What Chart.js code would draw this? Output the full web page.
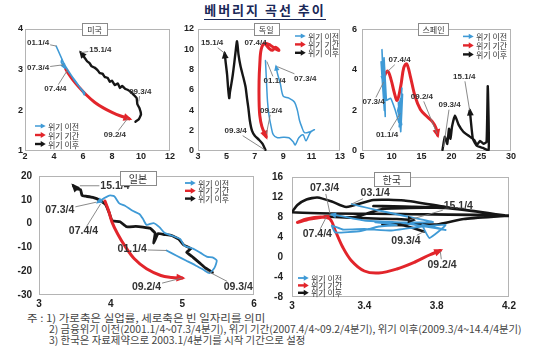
<!DOCTYPE html>
<html>
<head>
<meta charset="utf-8">
<script src="https://cdn.jsdelivr.net/npm/chart.js@4.4.1/dist/chart.umd.min.js"></script>
<style>
html,body{margin:0;padding:0;background:#fff;}
#page{position:relative;width:538px;height:349px;overflow:hidden;background:#fff;}
#page canvas{position:absolute;}
#title{position:absolute;left:0;top:2px;width:530px;text-align:center;font:bold 13px "Noto Sans CJK KR",sans-serif;letter-spacing:2px;color:#1a2858;line-height:16px;}
#title span{border-bottom:1.5px solid #1a2858;}
.note{position:absolute;font:10px "Noto Sans CJK KR",sans-serif;color:#444;white-space:nowrap;line-height:12px;transform-origin:0 0;}
</style>
</head>
<body>
<div id="page">
<div id="title"><span>베버리지 곡선 추이</span></div>
<div class="note" id="n1" style="left:27px;top:312px">주 : 1) 가로축은 실업률, 세로축은 빈 일자리를 의미</div>
<div class="note" id="n2" style="left:49px;top:323px">2) 금융위기 이전(2001.1/4~07.3/4분기), 위기 기간(2007.4/4~09.2/4분기), 위기 이후(2009.3/4~14.4/4분기)</div>
<div class="note" id="n3" style="left:49px;top:334px">3) 한국은 자료제약으로 2003.1/4분기를 시작 기간으로 설정</div>
</div>
<script>
// ---------- data ----------
const seriesNames = ['위기 이전', '위기 기간', '위기 이후'];
const panelNames = ['미국', '독일', '스페인', '일본', '한국'];

// 미국
const usXTicks = [2, 4, 6, 8, 10, 12];
const usYTicks = [1, 2, 3, 4];
const usPre = [[4.15,3.58],[4.35,3.42],[4.6,3.22],[4.8,3.08],[5.2,2.86],[5.6,2.66],[5.85,2.52],[6.0,2.45],[6.08,2.38],[6.12,2.43],[5.9,2.52],[5.6,2.64],[5.4,2.74],[5.2,2.85],[5.0,2.95],[4.85,3.03],[4.7,3.12],[4.6,3.2],[4.55,3.26],[4.5,3.18],[4.62,3.12],[4.72,3.05]];
const usCrisis = [[4.8,3.02],[5.0,2.9],[5.3,2.75],[5.7,2.58],[6.2,2.39],[6.8,2.2],[7.4,2.06],[8.0,1.95],[8.6,1.86],[9.2,1.79]];
const usPost = [[9.62,1.72],[9.85,1.78],[10.0,1.9],[9.9,2.05],[9.75,2.15],[9.7,2.3],[9.5,2.38],[9.3,2.45],[9.1,2.5],[8.9,2.53],[8.7,2.6],[8.55,2.55],[8.4,2.66],[8.2,2.62],[8.0,2.73],[7.85,2.7],[7.7,2.8],[7.5,2.82],[7.35,2.9],[7.15,2.92],[7.0,2.99],[6.8,3.05],[6.6,3.08],[6.45,3.16],[6.3,3.2],[6.1,3.3],[6.0,3.35],[5.85,3.42]];
const usLabels = [['01.1/4',2.9,3.67,4.17,3.58],['15.1/4',7.2,3.49,5.88,3.42],['07.3/4',2.9,3.04,4.65,3.12],['07.4/4',4.1,2.52,4.95,3.0],['09.3/4',9.95,2.46,9.85,2.22],['09.2/4',8.2,1.39,9.08,1.8]];

// 독일
const deXTicks = [3, 5, 7, 9, 11, 13];
const deYTicks = [0, 2, 4, 6, 8, 10, 12];
const dePre = [[7.75,8.9],[7.8,7.5],[7.85,6.0],[7.9,4.8],[8.0,3.5],[8.15,2.4],[8.3,1.6],[8.6,1.3],[9.0,1.35],[9.4,1.3],[9.7,0.9],[9.85,0.6],[10.1,1.3],[10.4,1.6],[10.6,1.0],[10.9,1.8],[11.2,2.1],[10.9,1.9],[10.5,1.8],[10.3,2.4],[10.15,3.0],[10.0,4.0],[9.8,4.8],[9.4,5.2],[9.0,5.4],[8.8,6.6],[8.6,7.6],[8.5,8.3]];
const deCrisis = [[7.75,10.5],[8.0,10.1],[8.25,9.9],[8.45,10.2],[8.7,9.9],[8.5,10.0],[8.1,10.4],[7.7,10.6],[7.45,10.0],[7.35,8.5],[7.3,6.8],[7.3,5.0],[7.35,3.5],[7.5,2.4],[7.8,1.4]];
const dePost = [[7.75,0.1],[7.55,0.7],[7.3,1.1],[7.0,1.5],[6.8,2.0],[6.65,3.0],[6.55,4.2],[6.45,5.2],[6.35,6.3],[6.2,7.2],[6.0,8.3],[5.85,9.5],[5.75,10.8],[5.65,9.8],[5.55,8.6],[5.45,7.5],[5.35,6.6],[5.25,5.8],[5.2,5.2],[5.12,6.2],[5.05,7.5],[4.95,8.7],[4.88,9.6]];
const deLabels = [['15.1/4',4.0,10.6,4.86,9.63],['07.4/4',7.05,10.6,7.75,10.45],['07.3/4',10.55,7.15,8.58,8.3],['01.1/4',8.4,6.9,7.85,8.8],['09.2/4',8.15,4.0,7.82,1.7],['09.3/4',5.65,1.95,7.72,0.1]];

// 스페인
const esXTicks = [5, 10, 15, 20, 25, 30];
const esYTicks = [0, 2, 4, 6];
const esPre = [[11.4,1.85],[11.7,3.1],[11.25,1.2],[11.8,2.8],[11.5,0.95],[11.1,2.4],[11.65,1.3],[11.0,2.0],[11.5,2.6],[11.2,1.4],[10.6,2.0],[9.8,2.6],[9.1,2.5],[8.7,4.6],[8.9,1.7],[8.35,5.0],[8.75,2.0],[8.2,4.4],[8.8,2.9],[8.4,4.2],[8.6,3.5]];
const esCrisis = [[8.6,3.6],[9.3,3.95],[9.9,3.5],[10.4,2.9],[10.9,2.5],[11.5,3.2],[12.0,4.1],[12.5,4.3],[13.1,3.7],[13.9,2.7],[14.8,2.05],[15.9,1.7],[16.8,1.45],[17.4,1.15],[17.7,0.78]];
const esPost = [[18.5,0.05],[18.9,0.7],[19.3,0.35],[19.6,1.1],[19.85,0.6],[20.1,1.2],[20.6,1.75],[21.2,1.3],[22.0,0.95],[22.9,0.75],[23.8,0.55],[24.3,0.3],[24.8,0.5],[25.4,0.35],[25.9,0.45],[26.1,3.2],[26.25,0.05],[25.3,0.15],[24.3,0.25],[23.6,0.6],[23.1,2.0]];
const esLabels = [['07.4/4',11.3,4.48,9.2,3.9],['07.3/4',6.95,2.42,8.64,3.41],['01.1/4',9.2,0.78,11.43,1.85],['09.2/4',15.05,2.67,17.58,0.86],['09.3/4',19.7,2.26,18.7,0.2],['15.1/4',22.15,3.66,23.06,2.01]];

// 일본
const jpXTicks = [3, 4, 5, 6];
const jpYTicks = [-30, -20, -10, 0, 10, 20];
const jpPre = [[4.78,-11.3],[4.92,-13.5],[5.05,-15.5],[5.18,-17.5],[5.3,-19.5],[5.38,-20.8],[5.45,-18.5],[5.48,-15.5],[5.42,-14.2],[5.35,-14.0],[5.25,-12.2],[5.15,-10.5],[5.03,-9.3],[4.97,-6.5],[4.85,-5.0],[4.75,-3.8],[4.68,-1.5],[4.6,0.2],[4.5,-0.5],[4.45,2.0],[4.4,4.0],[4.3,5.5],[4.2,7.5],[4.12,8.5],[4.05,11.5],[3.98,11.8],[3.9,10.5],[3.82,9.0]];
const jpCrisis = [[3.92,9.5],[3.97,5.5],[4.02,0.5],[4.1,-4.5],[4.2,-9.5],[4.33,-14.8],[4.5,-19.0],[4.7,-21.8],[4.85,-22.6],[5.0,-22.9]];
const jpPost = [[5.42,-20.5],[5.32,-18.6],[5.24,-16.5],[5.15,-14.2],[5.06,-12.0],[5.12,-10.5],[5.02,-9.0],[4.95,-6.5],[4.85,-5.0],[4.75,-4.6],[4.66,-4.2],[4.6,-8.2],[4.62,-4.0],[4.55,-2.0],[4.45,-1.5],[4.35,-1.2],[4.22,-1.3],[4.13,0.8],[4.02,1.2],[3.98,4.5],[3.93,8.0],[3.85,9.8],[3.75,11.0],[3.65,11.5],[3.6,11.8],[3.58,14.3],[3.52,14.6],[3.48,15.9]];
const jpLabels = [['15.1/4',4.06,15.9,3.57,15.9],['07.3/4',3.29,5.6,3.8,9.0],['07.4/4',3.62,-3.35,3.86,8.3],['01.1/4',4.3,-10.9,4.78,-11.3],['09.2/4',4.5,-26.7,4.99,-22.9],['09.3/4',5.78,-26.7,5.34,-19.8]];

// 한국
const krXTicks = [3, 3.4, 3.8, 4.2];
const krYTicks = [-8, -4, 0, 4, 8, 12, 16];
const krPre = [[3.33,10.6],[3.42,9.8],[3.52,9.0],[3.65,8.0],[3.78,7.0],[3.62,6.9],[3.46,6.95],[3.58,6.4],[3.48,6.1],[3.38,5.2],[3.24,4.9],[3.22,6.3],[3.28,5.5],[3.4,5.6],[3.55,5.3],[3.7,6.0],[3.85,6.4],[3.76,3.8],[3.72,6.5],[3.85,5.4],[3.6,6.9],[3.4,7.3],[3.22,8.5]];
const krCrisis = [[3.2,8.1],[3.1,7.6],[3.03,6.9],[3.08,7.6],[3.16,8.0],[3.21,7.6],[3.24,5.2],[3.28,2.0],[3.33,-0.8],[3.4,-2.8],[3.48,-3.2],[3.58,-2.4],[3.68,-1.0],[3.76,0.4],[3.82,1.3]];
const krPost = [[3.73,5.1],[3.62,6.3],[3.5,6.5],[3.66,6.7],[3.8,6.5],[3.95,7.6],[4.2,8.3],[3.6,8.6],[3.0,8.95],[3.03,10.4],[3.08,11.5],[3.14,11.9],[3.22,11.1],[3.3,10.0],[3.45,11.4],[3.62,11.3],[3.85,10.0],[4.2,8.2],[3.85,9.8],[3.45,10.2],[3.8,9.9],[3.5,9.6],[3.35,8.0],[3.18,8.1],[3.45,7.7],[3.58,7.6],[3.67,7.4]];
const krLabels = [['07.3/4',3.18,13.76,3.21,8.7],['03.1/4',3.46,12.8,3.33,10.6],['15.1/4',3.92,10.24,3.65,7.45],['07.4/4',3.14,4.48,3.19,8.0],['09.3/4',3.63,3.2,3.73,5.1],['09.2/4',3.83,-1.6,3.82,1.1]];

// ---------- styling / layout ----------
const seriesColors = ['#3f9ad6', '#e2252b', '#161616'];
const PAD = 10, YW = 30, XH = 20;

const panels = [
  {name: panelNames[0], area:{l:25,t:29,r:170,b:151}, xT:usXTicks, yT:usYTicks, series:[usPre,usCrisis,usPost], labels:usLabels,
   tickSize:9, xPad:0, yPad:2, annSize:8, legSize:8, leg:{dx:10,dy:97,gap:9}, titleFx:0.48, titleSize:8, titlePad:5, widths:[1.5,3,2.4], tens:[0.2,0.35,0.1]},
  {name: panelNames[1], area:{l:198,t:29,r:340,b:151}, xT:deXTicks, yT:deYTicks, series:[dePre,deCrisis,dePost], labels:deLabels,
   tickSize:9, xPad:0, yPad:4, annSize:8, legSize:8, leg:{dx:97,dy:7,gap:8.4}, titleFx:0.48, titleSize:8, titlePad:5, widths:[1.5,3,2.4], tens:[0.3,0.35,0.25]},
  {name: panelNames[2], area:{l:362,t:29,r:511,b:151}, xT:esXTicks, yT:esYTicks, series:[esPre,esCrisis,esPost], labels:esLabels,
   tickSize:9, xPad:0, yPad:5, annSize:8, legSize:8, leg:{dx:101,dy:7,gap:9}, titleFx:0.48, titleSize:8, titlePad:4, widths:[1.6,3,2.4], tens:[0.05,0.35,0.15]},
  {name: panelNames[3], area:{l:39,t:173,r:254,b:295}, xT:jpXTicks, yT:jpYTicks, series:[jpPre,jpCrisis,jpPost], labels:jpLabels,
   tickSize:10, xPad:3, yPad:7, annSize:10.5, legSize:8, leg:{dx:146,dy:7,gap:7.8}, titleFx:0.46, titleSize:10, titlePad:9, widths:[1.8,3,2.8], tens:[0.2,0.35,0.1]},
  {name: panelNames[4], area:{l:292,t:172,r:509,b:297}, xT:krXTicks, yT:krYTicks, series:[krPre,krCrisis,krPost], labels:krLabels,
   tickSize:10, xPad:3, yPad:9, annSize:10.5, legSize:8, leg:{dx:6,dy:101,gap:7.4}, titleFx:0.46, titleSize:10, titlePad:9, widths:[1.8,3,2.6], tens:[0.1,0.35,0.2]}
];

function drawArrow(ctx, x1, y1, x2, y2, len, wid, color) {
  const ang = Math.atan2(y2 - y1, x2 - x1);
  ctx.save();
  ctx.translate(x2, y2);
  ctx.rotate(ang);
  ctx.beginPath();
  ctx.moveTo(len * 0.35, 0);
  ctx.lineTo(-len * 0.65, wid / 2);
  ctx.lineTo(-len * 0.65, -wid / 2);
  ctx.closePath();
  ctx.fillStyle = color;
  ctx.fill();
  ctx.restore();
}

const deco = {
  id: 'deco',
  beforeDatasetsDraw(chart) {
    const {ctx, chartArea: a} = chart;
    ctx.save();
    ctx.strokeStyle = '#b4b4b4';
    ctx.lineWidth = 1;
    ctx.strokeRect(Math.round(a.left) + 0.5, Math.round(a.top) + 0.5, Math.round(a.right - a.left) - 1, Math.round(a.bottom - a.top) - 1);
    ctx.restore();
  },
  afterDatasetsDraw(chart) {
    const p = chart.options.plugins.deco.panel;
    const {ctx, chartArea: a, scales: {x, y}} = chart;
    // arrowheads at the end of each path
    chart.data.datasets.forEach((ds, i) => {
      const pts = chart.getDatasetMeta(i).data;
      const n = pts.length;
      if (n < 2) return;
      const w = ds.borderWidth;
      drawArrow(ctx, pts[n - 2].x, pts[n - 2].y, pts[n - 1].x, pts[n - 1].y, 3 + w * 2, 3 + w * 1.6, ds.borderColor);
    });
    // period labels with leader lines
    ctx.save();
    ctx.font = 'bold ' + p.annSize + 'px "Liberation Sans", Arial, sans-serif';
    ctx.textAlign = 'center';
    ctx.textBaseline = 'middle';
    p.labels.forEach(([t, lx, ly, tx, ty]) => {
      const cx = x.getPixelForValue(lx), cy = y.getPixelForValue(ly);
      const px = x.getPixelForValue(tx), py = y.getPixelForValue(ty);
      const hw = ctx.measureText(t).width / 2 + 1, hh = p.annSize / 2 + 0.5;
      const dx = px - cx, dy = py - cy;
      const s = Math.min(dx ? hw / Math.abs(dx) : Infinity, dy ? hh / Math.abs(dy) : Infinity);
      if (s < 1) {
        ctx.beginPath();
        ctx.moveTo(cx + dx * s, cy + dy * s);
        ctx.lineTo(px, py);
        ctx.strokeStyle = '#7d7d7d';
        ctx.lineWidth = 0.9;
        ctx.stroke();
      }
      ctx.fillStyle = '#333';
      ctx.fillText(t, cx, cy);
    });
    ctx.restore();
  },
  afterDraw(chart) {
    const p = chart.options.plugins.deco.panel;
    const {ctx, chartArea: a} = chart;
    ctx.save();
    // legend
    ctx.font = p.legSize + 'px "Noto Sans CJK KR", sans-serif';
    ctx.textAlign = 'left';
    ctx.textBaseline = 'middle';
    chart.data.datasets.forEach((ds, i) => {
      const x0 = a.left + p.leg.dx, yy = a.top + p.leg.dy + i * p.leg.gap;
      const lw = Math.min(ds.borderWidth, 2.4);
      ctx.beginPath();
      ctx.moveTo(x0, yy);
      ctx.lineTo(x0 + 7, yy);
      ctx.strokeStyle = ds.borderColor;
      ctx.lineWidth = lw;
      ctx.stroke();
      drawArrow(ctx, x0, yy, x0 + 9, yy, 5, 3 + lw * 1.3, ds.borderColor);
      ctx.fillStyle = '#333';
      ctx.fillText(ds.label, x0 + 13, yy + 0.5);
    });
    // panel title box
    ctx.font = p.titleSize + 'px "Noto Sans CJK KR", sans-serif';
    ctx.textAlign = 'center';
    const tw = ctx.measureText(p.name).width;
    const bx = a.left + p.titleFx * (a.right - a.left);
    const bw = tw + 2 * p.titlePad, bh = p.titleSize + 4;
    const by = Math.round(a.top - bh / 2 + (p.titleSize > 9 ? 2 : 0));
    ctx.fillStyle = '#fff';
    ctx.fillRect(Math.round(bx - bw / 2) + 0.5, by + 0.5, Math.round(bw), bh);
    ctx.strokeStyle = '#8a8a8a';
    ctx.lineWidth = 1;
    ctx.strokeRect(Math.round(bx - bw / 2) + 0.5, by + 0.5, Math.round(bw), bh);
    ctx.fillStyle = '#333';
    ctx.fillText(p.name, bx, by + bh / 2 + 1);
    ctx.restore();
  }
};

const page = document.getElementById('page');
panels.forEach(p => {
  const A = p.area;
  const w = A.r - A.l + YW + 2 * PAD, h = A.b - A.t + XH + 2 * PAD;
  const cv = document.createElement('canvas');
  cv.width = w; cv.height = h;
  cv.style.left = (A.l - YW - PAD) + 'px';
  cv.style.top = (A.t - PAD) + 'px';
  cv.style.width = w + 'px';
  cv.style.height = h + 'px';
  page.appendChild(cv);
  const tickFont = {family: '"Liberation Sans", Arial, sans-serif', size: p.tickSize, weight: 'bold'};
  new Chart(cv, {
    type: 'line',
    data: {
      datasets: p.series.map((s, i) => ({
        label: seriesNames[i],
        data: s.map(([x, y]) => ({x, y})),
        borderColor: seriesColors[i],
        backgroundColor: seriesColors[i],
        borderWidth: p.widths[i],
        pointRadius: 0,
        tension: p.tens[i],
        fill: false,
        borderJoinStyle: 'round',
        borderCapStyle: 'round'
      }))
    },
    options: {
      responsive: false,
      animation: false,
      devicePixelRatio: 1,
      events: [],
      layout: {padding: PAD},
      plugins: {legend: {display: false}, tooltip: {enabled: false}, deco: {panel: p}},
      scales: {
        x: {
          type: 'linear', min: p.xT[0], max: p.xT[p.xT.length - 1],
          afterBuildTicks: s => { s.ticks = p.xT.map(v => ({value: v})); },
          afterFit: s => { s.height = XH; },
          grid: {display: false, drawTicks: false},
          border: {display: false},
          ticks: {font: tickFont, color: '#222', padding: p.xPad, autoSkip: false, maxRotation: 0, minRotation: 0, callback: v => String(v)}
        },
        y: {
          type: 'linear', min: p.yT[0], max: p.yT[p.yT.length - 1],
          afterBuildTicks: s => { s.ticks = p.yT.map(v => ({value: v})); },
          afterFit: s => { s.width = YW; },
          grid: {display: false, drawTicks: false},
          border: {display: false},
          ticks: {font: tickFont, color: '#222', padding: p.yPad, autoSkip: false, callback: v => String(v)}
        }
      }
    },
    plugins: [deco]
  });
});

// fit footnote widths to the reference
[['n1', 238], ['n2', 473], ['n3', 256]].forEach(([id, target]) => {
  const el = document.getElementById(id);
  el.style.transform = 'scaleX(' + (target / el.offsetWidth) + ')';
});
</script>
</body>
</html>
